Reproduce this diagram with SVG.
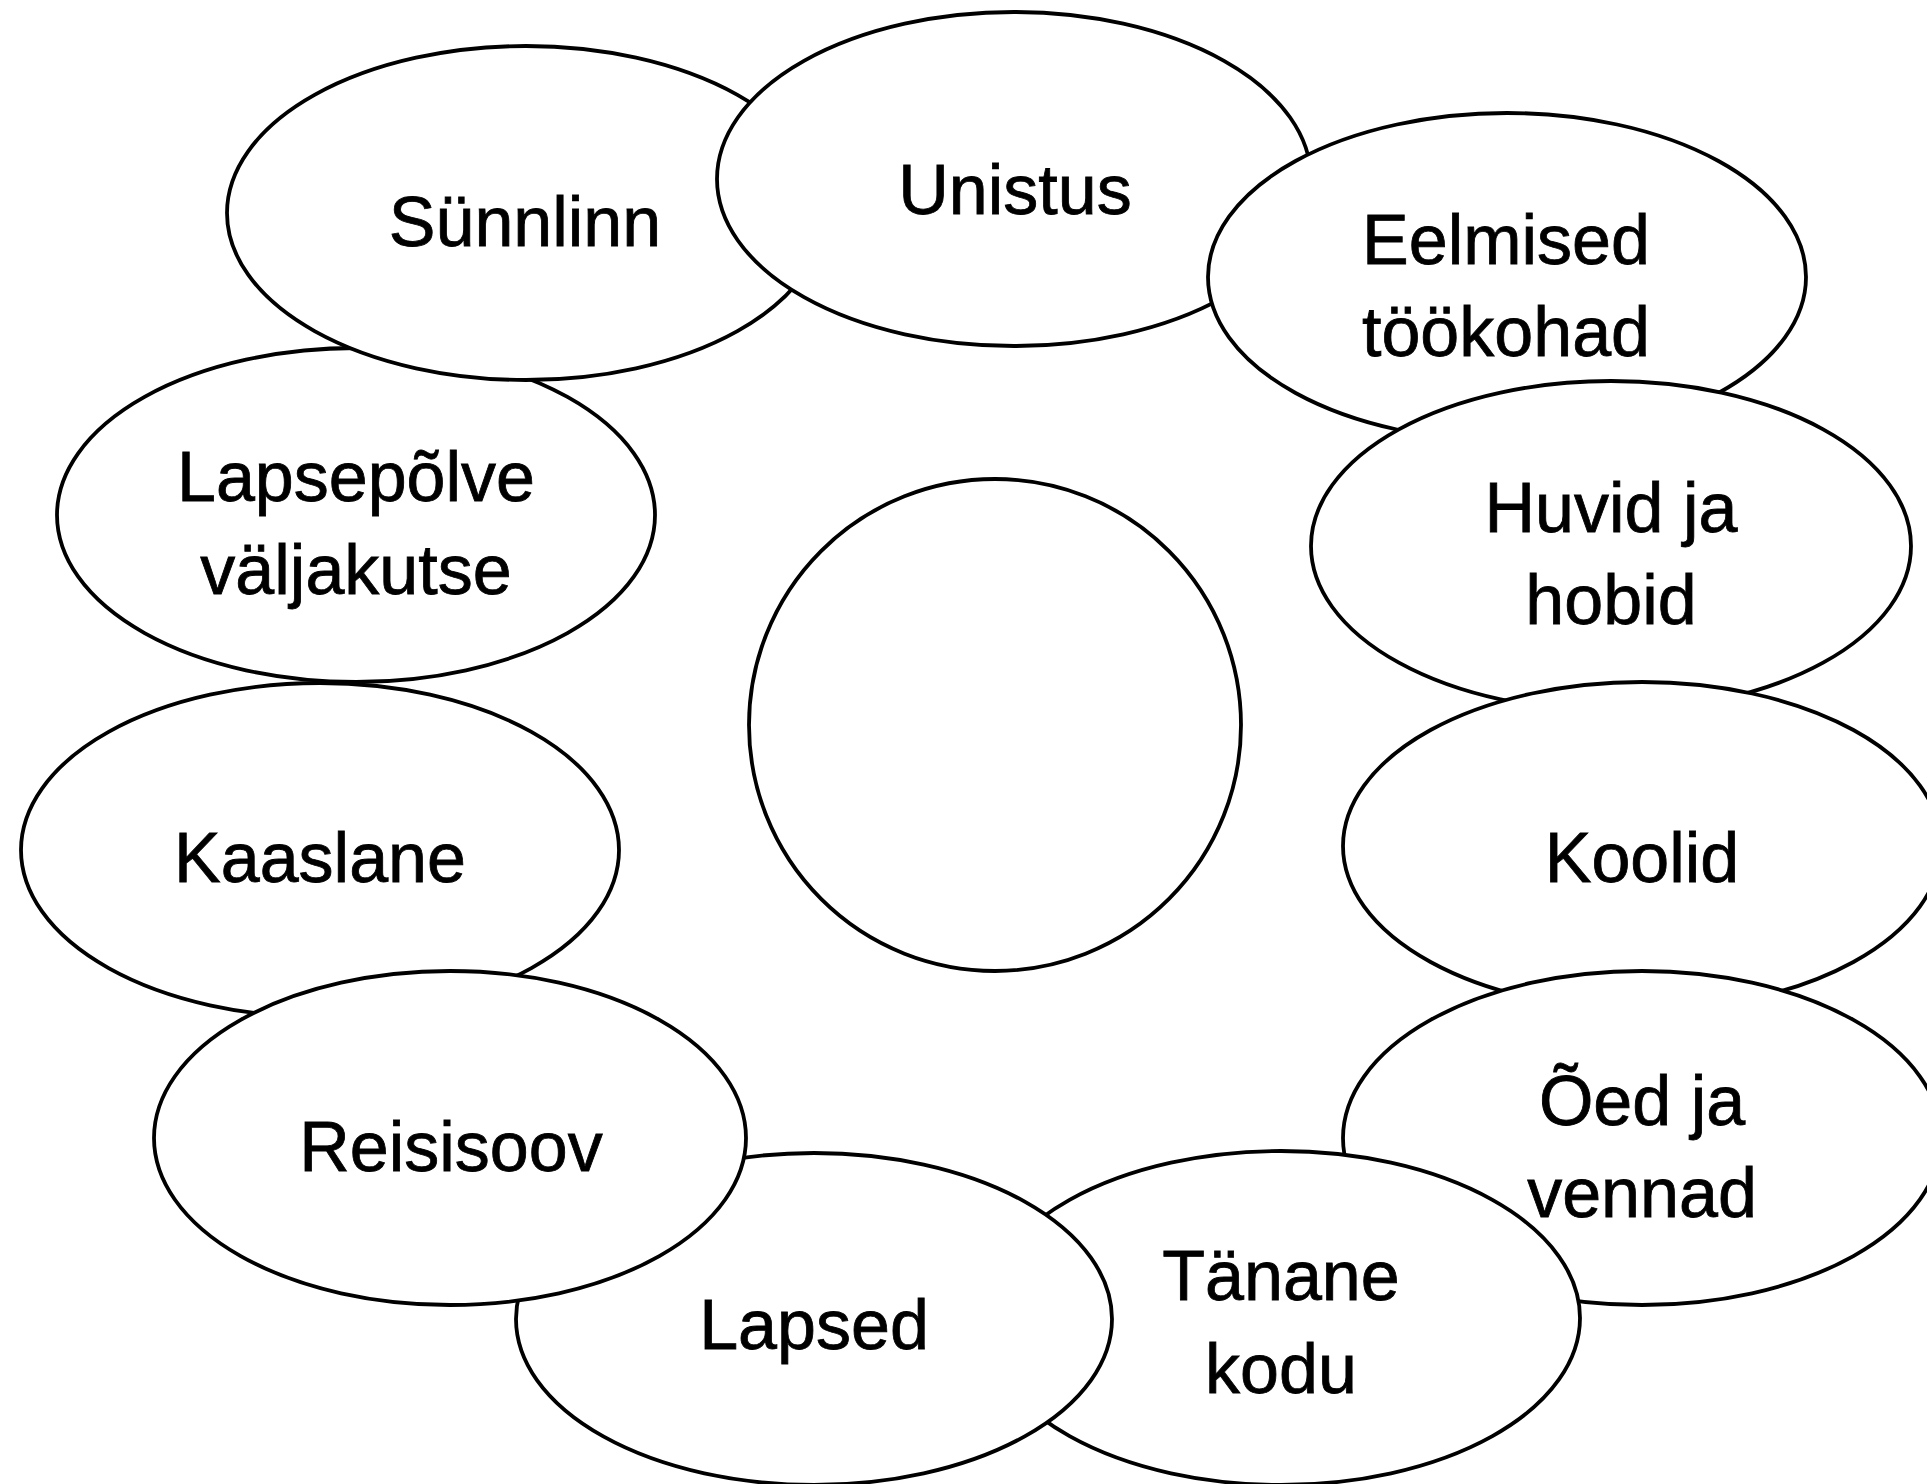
<svg xmlns="http://www.w3.org/2000/svg" width="1927" height="1484" viewBox="0 0 1927 1484">
  <style>
    .bubble { fill: #ffffff; stroke: #000000; stroke-width: 3.8; }
    .label { font-family: "Liberation Sans", Arial, sans-serif; font-size: 70px; fill: #000000; stroke: #000000; stroke-width: 0.8; text-anchor: middle; }
  </style>
  <rect x="0" y="0" width="1927" height="1484" fill="#ffffff"/>

  <!-- bubbles are painted in stacking order: later ones cover earlier ones -->
  <g id="node-lapsepolve">
    <ellipse class="bubble" cx="356" cy="515" rx="299" ry="167"/>
    <text class="label" x="356" y="501">Lapsepõlve</text>
    <text class="label" x="356" y="594">väljakutse</text>
  </g>
  <g id="node-kaaslane">
    <ellipse class="bubble" cx="320" cy="850" rx="299" ry="167"/>
    <text class="label" x="320" y="882">Kaaslane</text>
  </g>
  <g id="node-sunnlinn">
    <ellipse class="bubble" cx="526" cy="213" rx="299" ry="167"/>
    <text class="label" x="525" y="246">Sünnlinn</text>
  </g>
  <g id="node-unistus">
    <ellipse class="bubble" cx="1014" cy="179" rx="297" ry="167"/>
    <text class="label" x="1015" y="214">Unistus</text>
  </g>
  <g id="node-eelmised">
    <ellipse class="bubble" cx="1507" cy="277" rx="299" ry="164"/>
    <text class="label" x="1506" y="264">Eelmised</text>
    <text class="label" x="1506" y="356">töökohad</text>
  </g>
  <g id="node-huvid">
    <ellipse class="bubble" cx="1611" cy="546" rx="300" ry="165"/>
    <text class="label" x="1611" y="532">Huvid ja</text>
    <text class="label" x="1611" y="624">hobid</text>
  </g>
  <g id="node-koolid">
    <ellipse class="bubble" cx="1642" cy="846" rx="299" ry="164"/>
    <text class="label" x="1642" y="882">Koolid</text>
  </g>
  <g id="node-oed">
    <ellipse class="bubble" cx="1642" cy="1138" rx="299" ry="167"/>
    <text class="label" x="1642" y="1125">Õed ja</text>
    <text class="label" x="1642" y="1217">vennad</text>
  </g>
  <g id="node-tanane">
    <ellipse class="bubble" cx="1281" cy="1318" rx="299" ry="167"/>
    <text class="label" x="1281" y="1300">Tänane</text>
    <text class="label" x="1281" y="1393">kodu</text>
  </g>
  <g id="node-lapsed">
    <ellipse class="bubble" cx="814" cy="1319" rx="298" ry="166"/>
    <text class="label" x="814" y="1349">Lapsed</text>
  </g>
  <g id="node-reisisoov">
    <ellipse class="bubble" cx="450" cy="1138" rx="296" ry="167"/>
    <text class="label" x="451" y="1171">Reisisoov</text>
  </g>

  <!-- empty centre circle -->
  <g id="node-centre">
    <circle class="bubble" cx="995" cy="725" r="246"/>
  </g>

  <g id="connectors"></g>
</svg>
